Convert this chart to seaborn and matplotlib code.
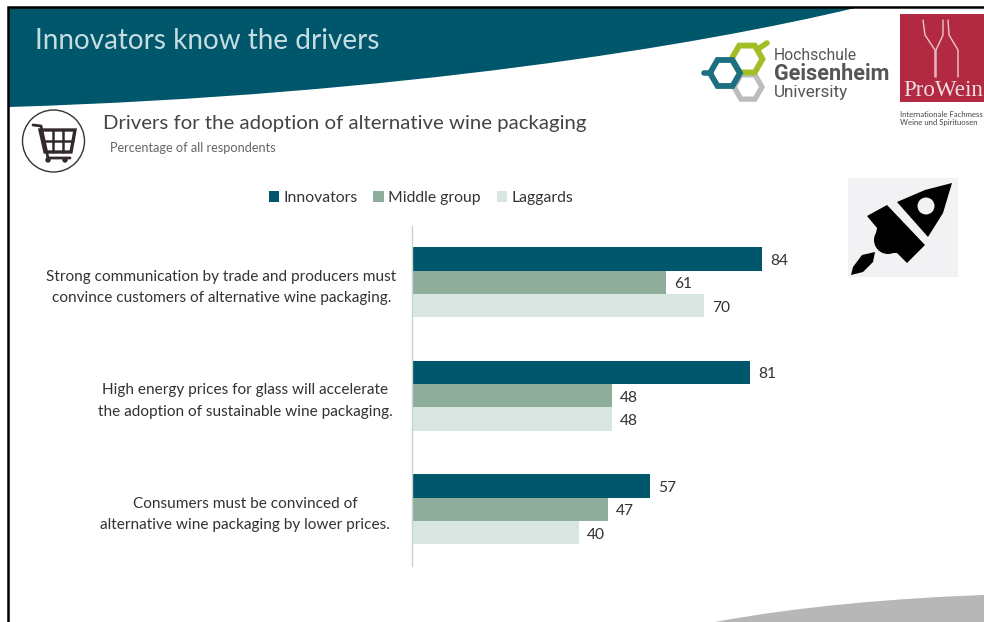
import matplotlib
matplotlib.use("Agg")
import matplotlib.pyplot as plt
import seaborn as sns
import pandas as pd
import numpy as np
from matplotlib.path import Path
from matplotlib.patches import PathPatch, Polygon, Circle, Rectangle, RegularPolygon

# values
categories = [
    "Strong communication by trade and producers must\nconvince customers of alternative wine packaging.",
    "High energy prices for glass will accelerate\nthe adoption of sustainable wine packaging.",
    "Consumers must be convinced of\nalternative wine packaging by lower prices.",
]
groups = ["Innovators", "Middle group", "Laggards"]
innovators = [84, 81, 57]
middle_group = [61, 48, 47]
laggards = [70, 48, 40]
group_colors = ["#00566A", "#8FAD9B", "#D9E5E0"]

TEAL = "#00566A"
W, H = 984, 622

sns.set_theme(style="white")
plt.rcParams["font.family"] = ["Lato", "DejaVu Sans"]

df = pd.DataFrame({"category": categories, "Innovators": innovators,
                   "Middle group": middle_group, "Laggards": laggards})
df = df.melt(id_vars="category", value_vars=groups, var_name="group", value_name="share")

fig = plt.figure(figsize=(W / 100, H / 100), dpi=100, facecolor="white")

# ------- slide decoration, in pixel coordinates -------
bg = fig.add_axes([0, 0, 1, 1], zorder=0)
bg.set_xlim(0, W)
bg.set_ylim(H, 0)
bg.axis("off")

# teal header swoosh
header = Path([(9, 8), (855, 8), (700, 45), (400, 95), (9, 107), (9, 8)],
              [Path.MOVETO, Path.LINETO, Path.CURVE4, Path.CURVE4, Path.CURVE4, Path.CLOSEPOLY])
bg.add_patch(PathPatch(header, fc=TEAL, ec="none"))
# grey swoosh bottom right
footer = Path([(715, 622), (800, 606), (900, 598), (984, 595), (984, 622), (715, 622)],
              [Path.MOVETO, Path.CURVE4, Path.CURVE4, Path.CURVE4, Path.LINETO, Path.CLOSEPOLY])
bg.add_patch(PathPatch(footer, fc="#B7B7B7", ec="none"))
# slide border
bg.plot([8, 8, W], [H, 7, 7], color="black", lw=1.8, solid_joinstyle="miter")

bg.text(35, 41, "Innovators know the drivers", color="#C5DDE0", fontsize=20.1, va="center")
bg.text(103, 124, "Drivers for the adoption of alternative wine packaging", color="#444444",
        fontsize=14.7, va="center")
bg.text(110, 148, "Percentage of all respondents", color="#666666", fontsize=9.2, va="center")

# shopping cart icon
cart = "#33292A"
bg.add_patch(Circle((53.5, 141), 31, fc="white", ec="#333333", lw=1))
bg.plot([33, 41, 48, 70], [125, 126, 158, 158], color=cart, lw=2, solid_capstyle="round")
bg.add_patch(Polygon([(40, 130), (75, 130), (71, 152), (45, 152)], fc="none", ec=cart, lw=2.4))
bg.plot([42, 73], [141, 141], color=cart, lw=1.8)
bg.plot([53, 53], [130, 152], color=cart, lw=1.8)
bg.plot([63, 63], [130, 152], color=cart, lw=1.8)
bg.add_patch(Circle((48, 160), 2.7, fc=cart, ec="none"))
bg.add_patch(Circle((65, 160), 2.7, fc=cart, ec="none"))

# Geisenheim logo
bg.add_patch(RegularPolygon((748, 87), 6, radius=14, orientation=np.pi / 2, fc="none", ec="#BDBDBD", lw=3.8))
bg.add_patch(RegularPolygon((747, 59), 6, radius=15.5, orientation=np.pi / 2, fc="none", ec="#A2BE25", lw=4.2))
bg.add_patch(RegularPolygon((725, 73), 6, radius=15, orientation=np.pi / 2, fc="none", ec="#1C6F80", lw=4.2))
bg.plot([704, 711], [73, 73], color="#1C6F80", lw=4)
bg.plot([758, 767], [49, 43], color="#A2BE25", lw=4)
bg.text(774, 56, "Hochschule", color="#555555", fontsize=11.3, va="center", family="Roboto")
bg.text(774, 74, "Geisenheim", color="#555555", fontsize=15.6, va="center", family="Roboto", weight="bold")
bg.text(774, 92, "University", color="#555555", fontsize=12.3, va="center", family="Roboto")

# ProWein logo
bg.add_patch(Rectangle((900, 14), 84, 88, fc="#B12A41", ec="none"))
for xs in ([923, 925, 935, 935], [943, 943, 936, 936], [948, 949, 958, 958]):
    bg.plot(xs, [20, 35, 50, 77], color="#E9C6CC", lw=1)
bg.text(903, 91, "ProWein", color="#F2DDE0", fontsize=16.6, va="center", family="Liberation Serif")
bg.text(900, 118.5, "Internationale Fachmess\nWeine und Spirituosen", color="#444444", fontsize=5.6,
        va="center", linespacing=1.15)

# rocket icon
bg.add_patch(Rectangle((848, 178), 110, 99, fc="#F2F2F4", ec="none"))
bg.add_patch(Polygon([(952, 183), (925, 190), (897, 202), (928, 237), (943, 213)], fc="black", ec="none"))
bg.add_patch(Circle((926, 206), 8.5, fc="#F2F2F4", ec="none"))
bg.add_patch(Polygon([(887, 205), (867, 216), (877, 228), (875, 240), (883, 253), (897, 253),
                      (907, 263), (925, 245)], fc="black", ec="none"))
bg.add_patch(Circle((888, 240), 14, fc="black", ec="none"))
bg.add_patch(Polygon([(875, 252), (862, 255), (853, 267), (851, 275), (863, 272), (873, 262)],
                     fc="black", ec="none"))

# ------- chart -------
# x: 4.167 px per percent from x=412, y: three 113.5 px bands from y=225.5
ax = fig.add_axes([412 / W, 1 - 566 / H, 416.7 / W, 340.5 / H], zorder=1)
ax.patch.set_alpha(0)
sns.barplot(data=df, y="category", x="share", hue="group", hue_order=groups, palette=group_colors,
            order=categories, width=0.62, saturation=1, gap=0, errorbar=None, linewidth=0, ax=ax)

for bars in ax.containers:
    for label in ax.bar_label(bars, padding=6, color="#333333", fontsize=11.2):
        # the slide's old-style digits sit a little below the bar centre
        label.xyann = (label.xyann[0], -1.5)

ax.set_xlim(0, 100)
ax.set_ylim(2.5, -0.5)
ax.set_xlabel("")
ax.set_ylabel("")
ax.set_xticks([])
ax.tick_params(axis="y", length=0, labelsize=11.05, labelcolor="#333333")
sns.despine(ax=ax, left=False, bottom=True)
ax.spines["left"].set_color("#C9D2D2")
ax.spines["left"].set_linewidth(1)

# each label block sits at its own distance from the axis
for tick, pad in zip(ax.yaxis.get_major_ticks(), [11, 14, 16]):
    tick.set_pad(pad)
    tick.label1.set_multialignment("center")
    tick.label1.set_linespacing(1.7)

handles, labels = ax.get_legend_handles_labels()
ax.legend(handles, labels, loc="center", bbox_to_anchor=(421 / W, 1 - 198 / H),
          bbox_transform=fig.transFigure, ncol=3, frameon=False, fontsize=11.3, labelcolor="#333333",
          handlelength=0.65, handleheight=0.7, handletextpad=0.3, columnspacing=1.0)

fig.savefig("out.png", dpi=100)
